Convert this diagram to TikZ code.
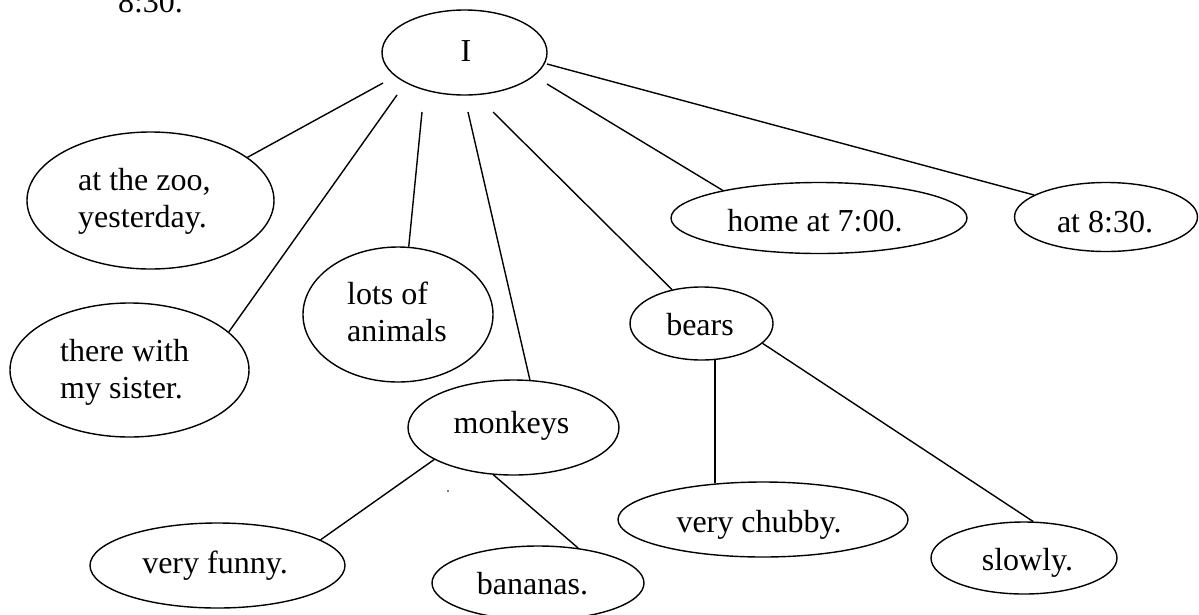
\documentclass[tikz,border=0pt]{standalone}
\usepackage{fontspec}
\setmainfont{Liberation Serif}
\usetikzlibrary{shapes.geometric}
\begin{document}
\begin{tikzpicture}[x=1pt, y=-1pt,
  bubble/.style={draw, ellipse, line width=1.4pt, inner sep=0pt},
  txt/.style={font=\fontsize{32}{37}\selectfont, inner sep=0pt},
  link/.style={line width=1.4pt}
]
\useasboundingbox (0,0) rectangle (1199,614);

% ellipses (centre, width x height)
\node[bubble, minimum width=165pt, minimum height=85pt]  (I)       at (464.5,52.5)  {};
\node[bubble, minimum width=247pt, minimum height=137pt] (zoo)     at (150.5,200.5) {};
\node[bubble, minimum width=239pt, minimum height=134pt] (sister)  at (129.5,370)   {};
\node[bubble, minimum width=190pt, minimum height=135pt] (lots)    at (398,314.5)   {};
\node[bubble, minimum width=211pt, minimum height=95pt]  (monkeys) at (513.5,427.5) {};
\node[bubble, minimum width=143pt, minimum height=73pt]  (bears)   at (701.5,323.5) {};
\node[bubble, minimum width=296pt, minimum height=71pt]  (home)    at (819,218)     {};
\node[bubble, minimum width=183pt, minimum height=69pt]  (at830)   at (1106,217)    {};
\node[bubble, minimum width=255pt, minimum height=85pt]  (funny)   at (217.5,565.5) {};
\node[bubble, minimum width=212pt, minimum height=74pt]  (bananas) at (538,583)     {};
\node[bubble, minimum width=290pt, minimum height=75pt]  (chubby)  at (763,519.5)   {};
\node[bubble, minimum width=186pt, minimum height=72pt]  (slowly)  at (1024,558)    {};

% texts
\node[txt, anchor=base] (t830top) at (150.5,12) {8:30.};
\node[txt, anchor=base] (tI) at (466,61) {I};
\node[txt, anchor=base west] (tzoo) at (78,190)
  {\begin{tabular}[t]{@{}l@{}}at the zoo,\\yesterday.\end{tabular}};
\node[txt, anchor=base west] (tsister) at (60,361)
  {\begin{tabular}[t]{@{}l@{}}there with\\my sister.\end{tabular}};
\node[txt, anchor=base west] (tlots) at (347,304)
  {\begin{tabular}[t]{@{}l@{}}lots of\\animals\end{tabular}};
\node[txt, anchor=base] (tmonkeys) at (511.5,433) {monkeys};
\node[txt, anchor=base] (tbears)   at (700,335)   {bears};
\node[txt, anchor=base] (thome)    at (815,231)   {home at 7:00.};
\node[txt, anchor=base] (tat830)   at (1105,232)  {at 8:30.};
\node[txt, anchor=base] (tfunny)   at (215,573)   {very funny.};
\node[txt, anchor=base] (tbananas) at (532.5,594) {bananas.};
\node[txt, anchor=base] (tchubby)  at (759,532)   {very chubby.};
\node[txt, anchor=base] (tslowly)  at (1027.5,570) {slowly.};

% free ends of the spokes below the top ellipse
\coordinate (s1) at (383,83);
\coordinate (s2) at (397,95);
\coordinate (s3) at (422,112);
\coordinate (s4) at (468,112);
\coordinate (s5) at (493,112);
\coordinate (s6) at (547,84);
\coordinate (s7) at (547,64);

% connectors
\draw[link] (s1) -- (zoo.24);
\draw[link] (s2) -- (sister.21);
\draw[link] (s3) -- (lots.81);
\draw[link] (s4) -- (monkeys.71);
\draw[link] (s5) -- (bears.131);
\draw[link] (s6) -- (home.164);
\draw[link] (s7) -- (at830.163);
\draw[link] (monkeys.202) -- (funny.14);
\draw[link] (monkeys.247) -- (bananas.41);
\draw[link] (bears.290) -- (bears.290 |- chubby.142);
\draw[link] (bears.342) -- (slowly.76);

% stray dot
\node[circle, fill, inner sep=0pt, minimum size=1.8pt] (dot) at (448,491) {};
\end{tikzpicture}
\end{document}
